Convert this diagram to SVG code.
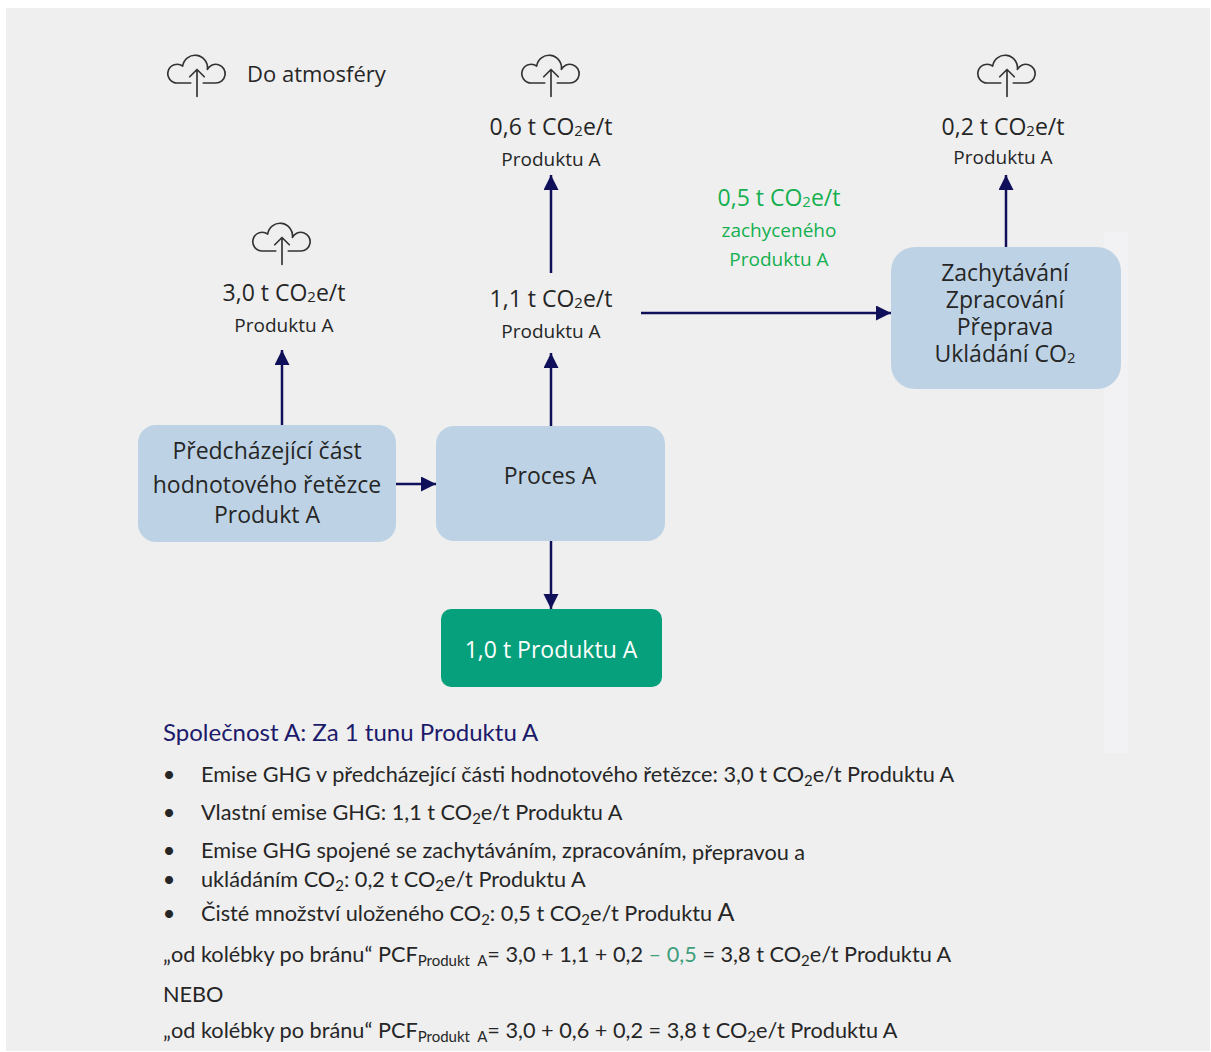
<svg xmlns="http://www.w3.org/2000/svg" width="1211" height="1052" viewBox="0 0 1211 1052">
<style>
.lbl{font-family:"Open Sans","Noto Sans","DejaVu Sans",sans-serif;fill:#262626;text-anchor:middle}
.big{font-size:23px}
.sm{font-size:19px}
.grn{fill:#14b04f}
.box{fill:#bdd3e5}
.bt{font-family:Lato,"Liberation Sans",sans-serif;font-size:21.7px;fill:#262626}
.s{font-size:65%}
.conn line{stroke:#10105a;stroke-width:2.5;marker-end:url(#ah)}
.cloud{fill:none;stroke:#333333;stroke-width:1.6;stroke-linecap:round;stroke-linejoin:round}
</style>
<defs>
<marker id="ah" markerUnits="userSpaceOnUse" markerWidth="16" markerHeight="16" refX="15" refY="7.5" orient="auto">
<path d="M0,0 L15,7.5 L0,15 z" fill="#10105a"/>
</marker>
<g id="cloudicon" class="cloud">
<path d="M -6,0 H -19 A 9 9 0 1 1 -13.8,-16.3 A 12 12 0 0 1 10,-13 A 9 9 0 1 1 18,0 H 6"/>
<path d="M 0,13 V -13 M -7,-6 L 0,-13 L 7,-6"/>
</g>
</defs>
<rect x="0" y="0" width="1211" height="1052" fill="#ffffff"/>
<rect x="6" y="8" width="1204" height="1043" fill="#efefef"/>
<rect x="1104" y="232" width="24" height="521" fill="#f2f2f4"/>

<g id="clouds">
<use href="#cloudicon" transform="translate(197,83) scale(1.04)"/>
<use href="#cloudicon" transform="translate(551,83) scale(1.04)"/>
<use href="#cloudicon" transform="translate(282,251) scale(1.04)"/>
<use href="#cloudicon" transform="translate(1007,83) scale(1.04)"/>
</g>

<text x="247" y="82" class="lbl" style="font-size:22px;text-anchor:start">Do atmosféry</text>

<g id="label-06">
<text x="551" y="135" class="lbl big">0,6 t CO<tspan class="s" baseline-shift="-1">2</tspan>e/t</text>
<text x="551" y="166" class="lbl sm">Produktu A</text>
</g>
<g id="label-30">
<text x="284" y="301" class="lbl big">3,0 t CO<tspan class="s" baseline-shift="-1">2</tspan>e/t</text>
<text x="284" y="332" class="lbl sm">Produktu A</text>
</g>
<g id="label-11">
<text x="551" y="307" class="lbl big">1,1 t CO<tspan class="s" baseline-shift="-1">2</tspan>e/t</text>
<text x="551" y="338" class="lbl sm">Produktu A</text>
</g>
<g id="label-02">
<text x="1003" y="135" class="lbl big">0,2 t CO<tspan class="s" baseline-shift="-1">2</tspan>e/t</text>
<text x="1003" y="164" class="lbl sm">Produktu A</text>
</g>
<g id="label-05">
<text x="779" y="206" class="lbl big grn">0,5 t CO<tspan class="s" baseline-shift="-1">2</tspan>e/t</text>
<text x="779" y="237" class="lbl sm grn">zachyceného</text>
<text x="779" y="266" class="lbl sm grn">Produktu A</text>
</g>

<g id="node-upstream">
<rect x="138" y="425" width="258" height="117" rx="18" class="box"/>
<text x="267" y="459" class="lbl big">Předcházející část</text>
<text x="267" y="493" class="lbl big">hodnotového řetězce</text>
<text x="267" y="523" class="lbl big">Produkt A</text>
</g>
<g id="node-process">
<rect x="436" y="426" width="229" height="115" rx="18" class="box"/>
<text x="550" y="484" class="lbl big">Proces A</text>
</g>
<g id="node-product">
<rect x="441" y="609" width="221" height="78" rx="10" fill="#06a07c"/>
<text x="551" y="658" class="lbl big" style="fill:#ffffff">1,0 t Produktu A</text>
</g>
<g id="node-ccs">
<rect x="891" y="247" width="230" height="142" rx="24" class="box"/>
<text x="1005" y="281" class="lbl big">Zachytávání</text>
<text x="1005" y="308" class="lbl big">Zpracování</text>
<text x="1005" y="335" class="lbl big">Přeprava</text>
<text x="1005" y="362" class="lbl big">Ukládání CO<tspan class="s" baseline-shift="-1">2</tspan></text>
</g>

<g id="connectors" class="conn">
<line x1="282" y1="425" x2="282" y2="350"/>
<line x1="396" y1="484" x2="436" y2="484"/>
<line x1="551" y1="426" x2="551" y2="353"/>
<line x1="551" y1="541" x2="551" y2="609"/>
<line x1="551" y1="273" x2="551" y2="175"/>
<line x1="641" y1="313" x2="891" y2="313"/>
<line x1="1006" y1="247" x2="1006" y2="175"/>
</g>

<g id="summary">
<text x="163" y="741" class="bt" style="font-size:24px;fill:#1c1a6b">Společnost A: Za 1 tunu Produktu A</text>
<g class="bt">
<text x="169" y="782" text-anchor="middle">•</text>
<text x="169" y="820" text-anchor="middle">•</text>
<text x="169" y="858" text-anchor="middle">•</text>
<text x="169" y="887" text-anchor="middle">•</text>
<text x="169" y="921" text-anchor="middle">•</text>
</g>
<text x="201" y="782" class="bt">Emise GHG v předcházející části hodnotového řetězce: 3,0 t CO<tspan font-size="15" baseline-shift="-4">2</tspan>e/t Produktu A</text>
<text x="201" y="820" class="bt">Vlastní emise GHG: 1,1 t CO<tspan font-size="15" baseline-shift="-4">2</tspan>e/t Produktu A</text>
<text x="201" y="858" class="bt">Emise GHG spojené se zachytáváním, zpracováním, <tspan dy="2">přepravou a</tspan></text>
<text x="201" y="887" class="bt">ukládáním CO<tspan font-size="15" baseline-shift="-4">2</tspan>: 0,2 t CO<tspan font-size="15" baseline-shift="-4">2</tspan>e/t Produktu A</text>
<text x="201" y="921" class="bt">Čisté množství uloženého CO<tspan font-size="15" baseline-shift="-4">2</tspan>: 0,5 t CO<tspan font-size="15" baseline-shift="-4">2</tspan>e/t Produktu <tspan font-size="25">A</tspan></text>
<text x="163" y="962" class="bt">„od kolébky po bránu“ PCF<tspan font-size="15" baseline-shift="-4">Produkt&#160;&#160;A</tspan>= 3,0 + 1,1 + 0,2 <tspan fill="#3f9e7c">– 0,5</tspan> = 3,8 t CO<tspan font-size="15" baseline-shift="-4">2</tspan>e/t Produktu A</text>
<text x="163" y="1002" class="bt">NEBO</text>
<text x="163" y="1038" class="bt">„od kolébky po bránu“ PCF<tspan font-size="15" baseline-shift="-4">Produkt&#160;&#160;A</tspan>= 3,0 + 0,6 + 0,2 = 3,8 t CO<tspan font-size="15" baseline-shift="-4">2</tspan>e/t Produktu A</text>
</g>
</svg>
